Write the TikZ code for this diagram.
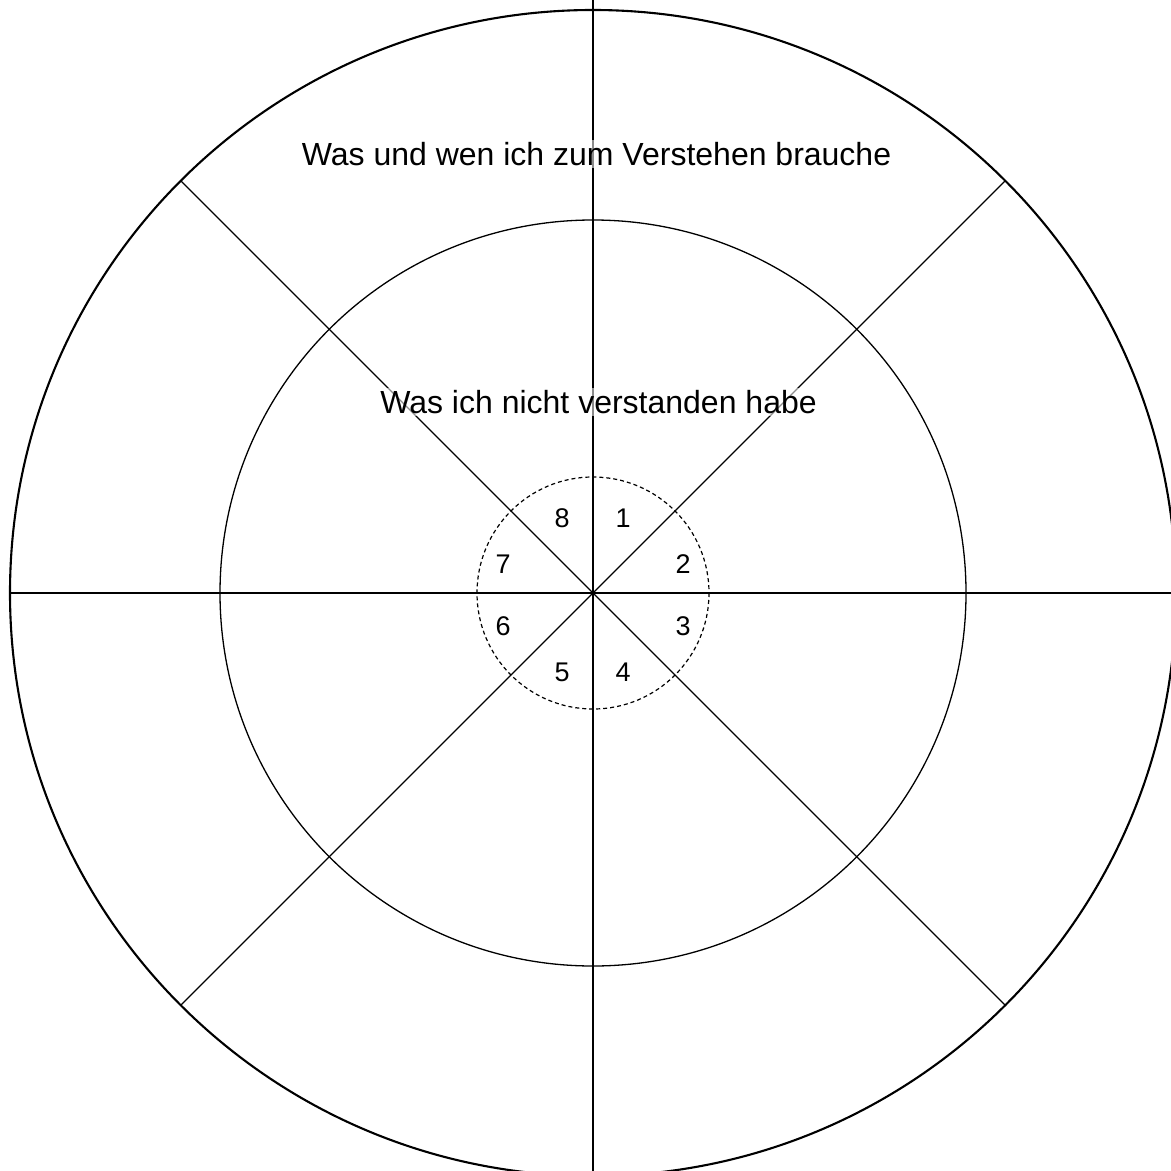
\documentclass[tikz,border=0pt]{standalone}
\usepackage{fontspec}
\setmainfont{Liberation Sans}
\usetikzlibrary{calc}
\begin{document}
\begin{tikzpicture}[x=0.5pt,y=-0.5pt,
  thinline/.style={line width=0.65pt},
  outerline/.style={line width=1.05pt},
  dashline/.style={line width=0.6pt,dash pattern=on 2pt off 1.5pt},
  bigtext/.style={font=\fontsize{16}{19}\selectfont,inner sep=1pt,fill=white,fill opacity=0.55,text opacity=1},
  numtext/.style={font=\fontsize{13.5}{16}\selectfont,inner sep=0pt}]
\clip (0,0) rectangle (1171,1171);
\coordinate (c) at (593,593);
\coordinate (top) at (593,0);
\coordinate (bot) at (593,1171);
\coordinate (left) at (10,593);
\coordinate (right) at (1171,593);
% outer circle
\draw[outerline] (c) circle[radius=583];
% middle circle
\draw[thinline] (c) circle[radius=373];
% dashed circle
\draw[dashline] (c) circle[radius=116];
% spokes
\draw[thinline] (top) -- (bot);
\draw[thinline] (left) -- (right);
\draw[thinline] ($(c)+(135:583)$) -- ($(c)+(-45:583)$);
\draw[thinline] ($(c)+(45:583)$) -- ($(c)+(-135:583)$);
% texts
\node[bigtext] (t1) at (596.5,154) {Was und wen ich zum Verstehen brauche};
\node[bigtext] (t2) at (598.5,402) {Was ich nicht verstanden habe};
\node[numtext] (n1) at (623,518) {1};
\node[numtext] (n2) at (683,564) {2};
\node[numtext] (n3) at (683,626) {3};
\node[numtext] (n4) at (623,672) {4};
\node[numtext] (n5) at (562,672) {5};
\node[numtext] (n6) at (503,626) {6};
\node[numtext] (n7) at (503,564) {7};
\node[numtext] (n8) at (562,518) {8};
\end{tikzpicture}
\end{document}
